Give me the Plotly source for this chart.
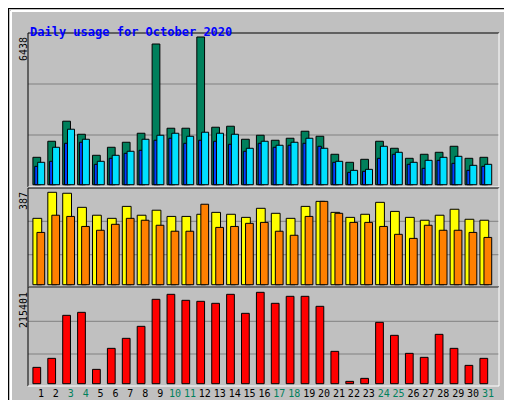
import plotly.graph_objects as go

days = list(range(1, 32))
weekend = [3, 4, 10, 11, 17, 18, 24, 25, 31]
hits = [1194,1894,2768,2199,1282,1631,1850,2243,6132,2462,2462,6438,2505,2549,1981,2156,1937,2025,2331,2112,1326,976,1107,1894,1588,1151,1326,1413,1675,1151,1194]
files = [801,1020,1806,1850,889,1151,1369,1500,1937,2025,1806,1937,1894,1762,1457,1806,1631,1719,1806,1675,976,539,583,1151,1326,889,714,1063,932,626,801]
pages = [976,1631,2418,1981,1020,1282,1457,1981,2156,2243,2112,2287,2243,2199,1588,1894,1719,1850,2025,1588,1020,626,670,1675,1413,976,1063,1194,1238,845,889]
visits = [278,387,383,324,291,278,328,291,312,286,286,295,303,295,282,320,299,278,328,349,303,282,295,345,307,282,270,291,316,274,270]
sites = [219,291,286,244,228,253,278,270,249,224,224,337,240,244,257,261,224,207,286,349,299,261,261,244,211,194,249,228,228,219,198]
kbytes = [38514,59736,161130,168204,33798,83316,106896,135192,198858,210648,196500,194142,189426,210648,165846,215364,189426,205932,205932,182352,76242,5502,12576,144624,113970,71526,62094,116328,83316,43230,59736]

fig = go.Figure()
line = dict(color="black", width=1)
def bar(y, color, off, w, ax):
    fig.add_trace(go.Bar(x=days, y=y, marker=dict(color=color, line=line), offset=off, width=w,
                         xaxis="x", yaxis=ax, showlegend=False, hoverinfo="skip"))

bar(hits, "#00805C", -0.54, 0.52, "y")
bar(files, "#0040FF", -0.42, 0.24, "y")
bar(pages, "#00E0FF", -0.22, 0.47, "y")
bar(visits, "#FFFF00", -0.54, 0.59, "y2")
bar(sites, "#FF8000", -0.27, 0.52, "y2")
bar(kbytes, "#FF0000", -0.54, 0.52, "y3")

ticktext = [f'<span style="color:{"#00805C" if d in weekend else "black"}">{d}</span>' for d in days]
grid = dict(showgrid=False, zeroline=False, showticklabels=False, ticks="", fixedrange=True)
fig.update_layout(
    width=512, height=400, margin=dict(l=0, r=0, t=0, b=0, autoexpand=False),
    paper_bgcolor="#C0C0C0", plot_bgcolor="#C0C0C0", barmode="overlay",
    font=dict(family="DejaVu Sans Mono", size=11, color="black"),
    xaxis=dict(domain=[0.039, 0.959], range=[0.128, 31.74], tickvals=days, ticktext=ticktext,
               tickangle=0, showgrid=False, zeroline=False, ticks="", anchor="y3",
               tickfont=dict(size=10, family="DejaVu Sans Mono")),
    yaxis=dict(domain=[1-179/400, 1-25/400], range=[-100, 6612], **grid),
    yaxis2=dict(domain=[1-279/400, 1-180/400], range=[-9.6, 405], **grid),
    yaxis3=dict(domain=[1-378/400, 1-279/400], range=[-5420, 227890], **grid),
)
shapes = []
def hl(yref, v):
    shapes.append(dict(type="line", xref="x domain", yref=yref, x0=0, x1=1, y0=v, y1=v,
                       line=dict(color="#808080", width=1), layer="below"))
hl("y", 2166); hl("y", 4389)
hl("y2", 125.6); hl("y2", 265.5)
hl("y3", 70000); hl("y3", 147055)
x0, x1 = 20/512, 491/512
for top, bot in [(25, 179), (180, 279), (279, 378)]:
    shapes.append(dict(type="line", xref="paper", yref="paper", x0=x0, x1=x1, y0=1-top/400, y1=1-top/400, line=dict(color="black", width=1)))
    shapes.append(dict(type="line", xref="paper", yref="paper", x0=x0, x1=x0, y0=1-top/400, y1=1-bot/400, line=dict(color="black", width=1)))
    shapes.append(dict(type="line", xref="paper", yref="paper", x0=x1, x1=x1, y0=1-top/400, y1=1-bot/400, line=dict(color="white", width=1)))
    shapes.append(dict(type="line", xref="paper", yref="paper", x0=x0, x1=x1, y0=1-bot/400, y1=1-bot/400, line=dict(color="white", width=1)))
shapes.append(dict(type="rect", xref="paper", yref="paper", x0=0, x1=1, y0=0, y1=1, line=dict(color="black", width=2)))
shapes.append(dict(type="line", xref="paper", yref="paper", x0=3/512, x1=509/512, y0=1-3/400, y1=1-3/400, line=dict(color="white", width=2)))
shapes.append(dict(type="line", xref="paper", yref="paper", x0=3/512, x1=3/512, y0=3/400, y1=1-3/400, line=dict(color="white", width=2)))
shapes.append(dict(type="line", xref="paper", yref="paper", x0=3/512, x1=509/512, y0=3/400, y1=3/400, line=dict(color="#808080", width=3)))
shapes.append(dict(type="line", xref="paper", yref="paper", x0=509/512, x1=509/512, y0=3/400, y1=1-3/400, line=dict(color="#808080", width=3)))
fig.update_layout(shapes=shapes)

ann = [
    dict(x=20/512, y=1-15/400, text="<b>Daily usage for October 2020</b>", font=dict(color="#0000FF", size=12, family="DejaVu Sans Mono"), xanchor="left"),
    dict(x=15/512, y=1-27/400, text="6438", textangle=-90, yanchor="top", xanchor="center", font=dict(size=10)),
    dict(x=15/512, y=1-182/400, text="387", textangle=-90, yanchor="top", xanchor="center", font=dict(size=10)),
    dict(x=15/512, y=1-282/400, text="215401", textangle=-90, yanchor="top", xanchor="center", font=dict(size=10)),
    dict(x=501/512, y=1-27/400, yanchor="top", xanchor="center", textangle=-90, font=dict(size=10),
         text='<span style="color:#00E0FF">Pages</span> / <span style="color:#0040FF">Files</span> / <span style="color:#00805C">Hits</span>'),
    dict(x=501/512, y=1-181/400, yanchor="top", xanchor="center", textangle=-90, font=dict(size=9),
         text='<span style="color:#00C000">kB Out</span> <span style="color:#FF8000">Sites</span> / <span style="color:#FFFF00">Visits</span>'),
    dict(x=501/512, y=1-395/400, yanchor="bottom", xanchor="center", textangle=-90, font=dict(size=9),
         text='<span style="color:#FF0000">kB F</span> / <span style="color:#0080FF">kB In</span> / <span style="color:#00C000">kB</span>'),
]
for a in ann:
    a.setdefault("xref", "paper"); a.setdefault("yref", "paper"); a["showarrow"] = False
fig.update_layout(annotations=ann)
fig.write_html("out.html")
